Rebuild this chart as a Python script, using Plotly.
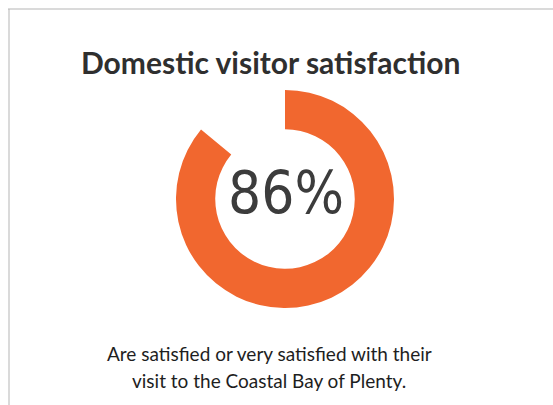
import plotly.graph_objects as go

# Share of domestic visitors, satisfied vs. the rest
segment_labels = ["Satisfied or very satisfied", "Other"]
segment_values = [86, 14]
segment_colors = ["#F1672F", "rgba(0,0,0,0)"]

title_text = "Domestic visitor satisfaction"
centre_text = f"{segment_values[0]}%"
caption_lines = [
    "Are satisfied or very satisfied with their",
    "visit to the Coastal Bay of Plenty.",
]

W, H = 553, 405

fig = go.Figure()
fig.add_trace(go.Pie(
    labels=segment_labels,
    values=segment_values,
    marker=dict(colors=segment_colors, line=dict(width=0)),
    hole=0.64,
    sort=False,
    direction="clockwise",
    rotation=0,
    textinfo="none",
    hoverinfo="skip",
    showlegend=False,
    domain=dict(x=[(285 - 109) / W, (285 + 109) / W],
                y=[1 - (199 + 109) / H, 1 - (199 - 109) / H]),
))

annotations = [
    dict(text=f"<b>{title_text}</b>", x=270 / W, y=1 - 62 / H,
         font=dict(family="Lato", size=30, color="#2f2f2f")),
    dict(text=centre_text, x=286 / W, y=1 - 193 / H,
         font=dict(family="DejaVu Sans Condensed, DejaVu Sans",
                   size=58, color="#3c3c3c")),
]
for i, line in enumerate(caption_lines):
    annotations.append(dict(text=line, x=269 / W, y=1 - (353 + 27 * i) / H,
                            font=dict(family="Lato", size=19, color="#1e1e1e")))
for a in annotations:
    a.update(xref="paper", yref="paper", xanchor="center", yanchor="middle",
             showarrow=False)

fig.update_layout(
    width=W, height=H,
    margin=dict(l=0, r=0, t=0, b=0),
    paper_bgcolor="#ffffff",
    plot_bgcolor="#ffffff",
    annotations=annotations,
    shapes=[
        dict(type="line", xref="paper", yref="paper",
             x0=8 / W, x1=1, y0=1 - 9 / H, y1=1 - 9 / H,
             line=dict(color="#b5b5b5", width=1)),
        dict(type="line", xref="paper", yref="paper",
             x0=9 / W, x1=9 / W, y0=0, y1=1 - 9 / H,
             line=dict(color="#b5b5b5", width=1)),
    ],
)

fig.write_html("out.html")
